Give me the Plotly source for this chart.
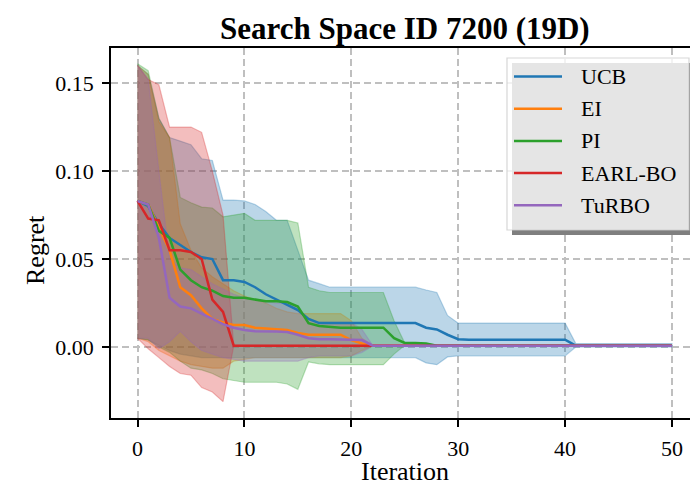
import plotly.graph_objects as go

# ---------------- data ----------------
iterations = list(range(51))
methods = ["UCB", "EI", "PI", "EARL-BO", "TuRBO"]

ucb_mean = [0.083, 0.080, 0.070, 0.062, 0.058, 0.054, 0.051, 0.050, 0.038, 0.038,
            0.037, 0.034, 0.030, 0.027, 0.024, 0.021, 0.016, 0.0136, 0.0136, 0.0136,
            0.0136, 0.0136, 0.0136, 0.0136, 0.0136, 0.0136, 0.0136, 0.011, 0.010, 0.007,
            0.0045, 0.0042, 0.0042, 0.0042, 0.0042, 0.0042, 0.0042, 0.0042, 0.0042, 0.0042,
            0.0042, 0.0008, 0.0008, 0.0008, 0.0008, 0.0008, 0.0008, 0.0008, 0.0008, 0.0008,
            0.0008]
ucb_upper = [0.160, 0.155, 0.130, 0.119, 0.117, 0.115, 0.107, 0.106, 0.0835, 0.0835,
             0.083, 0.081, 0.077, 0.072, 0.072, 0.055, 0.038, 0.036, 0.034, 0.034,
             0.034, 0.034, 0.034, 0.034, 0.034, 0.034, 0.034, 0.0324, 0.031, 0.018,
             0.0136, 0.0136, 0.0136, 0.0136, 0.0136, 0.0136, 0.0136, 0.0136, 0.0136, 0.0136,
             0.0136, 0.002, 0.002, 0.002, 0.002, 0.002, 0.002, 0.002, 0.002, 0.002,
             0.002]
ucb_lower = [0.005, 0.004, 0.001, -0.002, -0.004, -0.005, -0.006, -0.006, -0.006, -0.006,
             -0.006, -0.006, -0.006, -0.006, -0.006, -0.006, -0.006, -0.006, -0.006, -0.006,
             -0.006, -0.006, -0.006, -0.006, -0.006, -0.006, -0.006, -0.009, -0.010, -0.0056,
             -0.005, -0.005, -0.005, -0.005, -0.005, -0.005, -0.005, -0.005, -0.005, -0.005,
             -0.005, 0.0, 0.0, 0.0, 0.0, 0.0, 0.0, 0.0, 0.0, 0.0,
             0.0]

ei_mean = [0.083, 0.081, 0.068, 0.055, 0.034, 0.0295, 0.022, 0.016, 0.014, 0.0125,
           0.0125, 0.011, 0.0105, 0.010, 0.0097, 0.008, 0.007, 0.007, 0.007, 0.007,
           0.004, 0.002, 0.0008, 0.0008, 0.0008, 0.0008, 0.0008, 0.0008, 0.0008, 0.0008,
           0.0008, 0.0008, 0.0008, 0.0008, 0.0008, 0.0008, 0.0008, 0.0008, 0.0008, 0.0008,
           0.0008, 0.0008, 0.0008, 0.0008, 0.0008, 0.0008, 0.0008, 0.0008, 0.0008, 0.0008,
           0.0008]
ei_upper = [0.160, 0.155, 0.128, 0.119, 0.070, 0.055, 0.045, 0.040, 0.036, 0.032,
            0.029, 0.027, 0.025, 0.022, 0.020, 0.019, 0.019, 0.019, 0.019, 0.019,
            0.015, 0.005, 0.001, 0.001, 0.001, 0.001, 0.001, 0.001, 0.001, 0.001,
            0.001, 0.001, 0.001, 0.001, 0.001, 0.001, 0.001, 0.001, 0.001, 0.001,
            0.001, 0.001, 0.001, 0.001, 0.001, 0.001, 0.001, 0.001, 0.001, 0.001,
            0.001]
ei_lower = [0.005, 0.003, -0.002, -0.005, -0.008, -0.010, -0.011, -0.012, -0.012, -0.008,
            -0.007, -0.006, -0.006, -0.006, -0.006, -0.006, -0.006, -0.006, -0.006, -0.006,
            -0.005, -0.002, 0.0006, 0.0006, 0.0006, 0.0006, 0.0006, 0.0006, 0.0006, 0.0006,
            0.0006, 0.0006, 0.0006, 0.0006, 0.0006, 0.0006, 0.0006, 0.0006, 0.0006, 0.0006,
            0.0006, 0.0006, 0.0006, 0.0006, 0.0006, 0.0006, 0.0006, 0.0006, 0.0006, 0.0006,
            0.0006]

pi_mean = [0.083, 0.081, 0.066, 0.062, 0.044, 0.038, 0.034, 0.032, 0.029, 0.028,
           0.028, 0.027, 0.026, 0.026, 0.0256, 0.023, 0.0136, 0.012, 0.0114, 0.011,
           0.011, 0.011, 0.011, 0.011, 0.005, 0.0023, 0.0023, 0.002, 0.0008, 0.0008,
           0.0008, 0.0008, 0.0008, 0.0008, 0.0008, 0.0008, 0.0008, 0.0008, 0.0008, 0.0008,
           0.0008, 0.0008, 0.0008, 0.0008, 0.0008, 0.0008, 0.0008, 0.0008, 0.0008, 0.0008,
           0.0008]
pi_upper = [0.161, 0.157, 0.130, 0.119, 0.085, 0.082, 0.0795, 0.079, 0.074, 0.075,
            0.076, 0.072, 0.072, 0.072, 0.072, 0.0705, 0.034, 0.032, 0.031, 0.031,
            0.031, 0.031, 0.031, 0.031, 0.015, 0.0023, 0.0023, 0.002, 0.001, 0.001,
            0.001, 0.001, 0.001, 0.001, 0.001, 0.001, 0.001, 0.001, 0.001, 0.001,
            0.001, 0.001, 0.001, 0.001, 0.001, 0.001, 0.001, 0.001, 0.001, 0.001,
            0.001]
pi_lower = [0.005, 0.004, 0.0, -0.003, -0.008, -0.012, -0.013, -0.015, -0.018, -0.019,
            -0.020, -0.020, -0.020, -0.020, -0.021, -0.024, -0.0085, -0.0095, -0.010, -0.010,
            -0.010, -0.010, -0.010, -0.010, -0.004, 0.001, 0.001, 0.001, 0.0006, 0.0006,
            0.0006, 0.0006, 0.0006, 0.0006, 0.0006, 0.0006, 0.0006, 0.0006, 0.0006, 0.0006,
            0.0006, 0.0006, 0.0006, 0.0006, 0.0006, 0.0006, 0.0006, 0.0006, 0.0006, 0.0006,
            0.0006]

earl_mean = [0.083, 0.073, 0.072, 0.055, 0.055, 0.054, 0.050, 0.027, 0.020, 0.0008,
             0.0008, 0.0008, 0.0008, 0.0008, 0.0008, 0.0008, 0.0008, 0.0008, 0.0008, 0.0008,
             0.0008, 0.0008, 0.0008, 0.0008, 0.0008, 0.0008, 0.0008, 0.0008, 0.0008, 0.0008,
             0.0008, 0.0008, 0.0008, 0.0008, 0.0008, 0.0008, 0.0008, 0.0008, 0.0008, 0.0008,
             0.0008, 0.0008, 0.0008, 0.0008, 0.0008, 0.0008, 0.0008, 0.0008, 0.0008, 0.0008,
             0.0008]
earl_upper = [0.160, 0.152, 0.149, 0.125, 0.125, 0.125, 0.122, 0.100, 0.075, 0.001,
              0.001, 0.001, 0.001, 0.001, 0.001, 0.001, 0.001, 0.001, 0.001, 0.001,
              0.001, 0.001, 0.001, 0.001, 0.001, 0.001, 0.001, 0.001, 0.001, 0.001,
              0.001, 0.001, 0.001, 0.001, 0.001, 0.001, 0.001, 0.001, 0.001, 0.001,
              0.001, 0.001, 0.001, 0.001, 0.001, 0.001, 0.001, 0.001, 0.001, 0.001,
              0.001]
earl_lower = [0.005, -0.001, -0.006, -0.011, -0.015, -0.016, -0.023, -0.0255, -0.031, 0.0006,
              0.0006, 0.0006, 0.0006, 0.0006, 0.0006, 0.0006, 0.0006, 0.0006, 0.0006, 0.0006,
              0.0006, 0.0006, 0.0006, 0.0006, 0.0006, 0.0006, 0.0006, 0.0006, 0.0006, 0.0006,
              0.0006, 0.0006, 0.0006, 0.0006, 0.0006, 0.0006, 0.0006, 0.0006, 0.0006, 0.0006,
              0.0006, 0.0006, 0.0006, 0.0006, 0.0006, 0.0006, 0.0006, 0.0006, 0.0006, 0.0006,
              0.0006]

turbo_mean = [0.083, 0.081, 0.062, 0.028, 0.023, 0.022, 0.019, 0.016, 0.013, 0.011,
              0.0097, 0.009, 0.009, 0.0088, 0.0085, 0.007, 0.005, 0.0045, 0.0045, 0.0045,
              0.0042, 0.004, 0.0008, 0.0008, 0.0008, 0.0008, 0.0008, 0.0008, 0.0008, 0.0008,
              0.0008, 0.0008, 0.0008, 0.0008, 0.0008, 0.0008, 0.0008, 0.0008, 0.0008, 0.0008,
              0.0008, 0.0008, 0.0008, 0.0008, 0.0008, 0.0008, 0.0008, 0.0008, 0.0008, 0.0008,
              0.0008]
turbo_upper = [0.160, 0.152, 0.100, 0.050, 0.045, 0.044, 0.040, 0.036, 0.033, 0.030,
               0.028, 0.027, 0.026, 0.025, 0.025, 0.022, 0.016, 0.014, 0.014, 0.014,
               0.014, 0.010, 0.001, 0.001, 0.001, 0.001, 0.001, 0.001, 0.001, 0.001,
               0.001, 0.001, 0.001, 0.001, 0.001, 0.001, 0.001, 0.001, 0.001, 0.001,
               0.001, 0.001, 0.001, 0.001, 0.001, 0.001, 0.001, 0.001, 0.001, 0.001,
               0.001]
turbo_lower = [0.005, 0.005, -0.001, 0.003, 0.009, 0.003, -0.002, -0.004, -0.006, -0.007,
               -0.008, -0.008, -0.008, -0.008, -0.008, -0.008, -0.006, -0.005, -0.005, -0.005,
               -0.005, -0.003, 0.0006, 0.0006, 0.0006, 0.0006, 0.0006, 0.0006, 0.0006, 0.0006,
               0.0006, 0.0006, 0.0006, 0.0006, 0.0006, 0.0006, 0.0006, 0.0006, 0.0006, 0.0006,
               0.0006, 0.0006, 0.0006, 0.0006, 0.0006, 0.0006, 0.0006, 0.0006, 0.0006, 0.0006,
               0.0006]

x_ticks = [0, 10, 20, 30, 40, 50]
y_ticks = [0.00, 0.05, 0.10, 0.15]
y_tick_labels = ["0.00", "0.05", "0.10", "0.15"]

# ---------------- styling ----------------
rgb = {
    "UCB": (31, 119, 180),
    "EI": (255, 127, 14),
    "PI": (44, 160, 44),
    "EARL-BO": (214, 39, 40),
    "TuRBO": (148, 103, 189),
}
series = {
    "UCB": (ucb_mean, ucb_lower, ucb_upper),
    "EI": (ei_mean, ei_lower, ei_upper),
    "PI": (pi_mean, pi_lower, pi_upper),
    "EARL-BO": (earl_mean, earl_lower, earl_upper),
    "TuRBO": (turbo_mean, turbo_lower, turbo_upper),
}
FONT = "Liberation Serif, Times New Roman, serif"

W, H = 690, 488
L, R, T, B = 111, 0, 48, 70
pw, ph = W - L - R, H - T - B

def px(xp):
    return (xp - L) / pw

def py(yp):
    return (H - B - yp) / ph

fig = go.Figure()

# bands (drawn beneath all lines, like matplotlib collections)
for name in methods:
    m, lo, up = series[name]
    r, g, b = rgb[name]
    fig.add_trace(go.Scatter(
        x=iterations + iterations[::-1],
        y=up + lo[::-1],
        fill="toself",
        fillcolor=f"rgba({r},{g},{b},0.3)",
        line=dict(color=f"rgba({r},{g},{b},0.3)", width=1.2),
        mode="lines",
        hoverinfo="skip",
        showlegend=False,
    ))

for name in methods:
    m, lo, up = series[name]
    r, g, b = rgb[name]
    fig.add_trace(go.Scatter(
        x=iterations, y=m, mode="lines",
        line=dict(color=f"rgb({r},{g},{b})", width=2.5),
        name=name, showlegend=False,
    ))

x0 = -(137.5 - L) / 10.69
x1 = (W - R - 137.5) / 10.69

grid = dict(showgrid=True, gridcolor="#bfbfbf", griddash="7px,4px", gridwidth=1.5)

fig.update_layout(
    width=W, height=H,
    margin=dict(l=L, r=R, t=T, b=B, pad=0),
    paper_bgcolor="white", plot_bgcolor="white",
    font=dict(family=FONT, color="black", size=22),
    showlegend=False,
    xaxis=dict(
        range=[x0, x1], tickvals=x_ticks, **grid,
        zeroline=False, showline=True, linecolor="black", linewidth=1.6, mirror=True,
        ticks="outside", ticklen=7, tickwidth=1.5, tickcolor="black",
        tickfont=dict(size=22, family=FONT), ticklabelstandoff=3,
    ),
    yaxis=dict(
        range=[-0.0403, 0.1699], tickvals=y_ticks, ticktext=y_tick_labels, **grid,
        zeroline=False, showline=True, linecolor="black", linewidth=1.6, mirror=False,
        ticks="outside", ticklen=7, tickwidth=1.5, tickcolor="black",
        tickfont=dict(size=22, family=FONT), ticklabelstandoff=4,
    ),
)

annotations = [
    dict(text="<b>Search Space ID 7200 (19D)</b>", x=px(405), y=py(28), xref="paper", yref="paper",
         xanchor="center", yanchor="middle", showarrow=False, font=dict(size=31, family=FONT)),
    dict(text="Iteration", x=px(405), y=py(471), xref="paper", yref="paper",
         xanchor="center", yanchor="middle", showarrow=False, font=dict(size=26, family=FONT)),
    dict(text="Regret", x=px(35), y=py(250), xref="paper", yref="paper", textangle=-90,
         xanchor="center", yanchor="middle", showarrow=False, font=dict(size=26, family=FONT)),
]

# legend (matplotlib-style, with shadow)
shapes = [
    dict(type="rect", xref="paper", yref="paper",
         x0=px(512), x1=px(694), y0=py(63), y1=py(235),
         fillcolor="rgb(127,127,127)", line=dict(width=0), layer="above"),
    dict(type="rect", xref="paper", yref="paper",
         x0=px(507), x1=px(689), y0=py(58), y1=py(230),
         fillcolor="rgba(255,255,255,0.8)", line=dict(color="rgba(204,204,204,0.8)", width=1.2),
         layer="above"),
]
for k, name in enumerate(methods):
    yc = 76.5 + 32.2 * k
    r, g, b = rgb[name]
    shapes.append(dict(type="line", xref="paper", yref="paper",
                       x0=px(514), x1=px(562), y0=py(yc), y1=py(yc),
                       line=dict(color=f"rgb({r},{g},{b})", width=2.5), layer="above"))
    annotations.append(dict(text=name, x=px(579), y=py(yc), xref="paper", yref="paper",
                            xanchor="left", yanchor="middle", showarrow=False,
                            font=dict(size=22, family=FONT)))

fig.update_layout(shapes=shapes, annotations=annotations)
fig.write_html("out.html")
